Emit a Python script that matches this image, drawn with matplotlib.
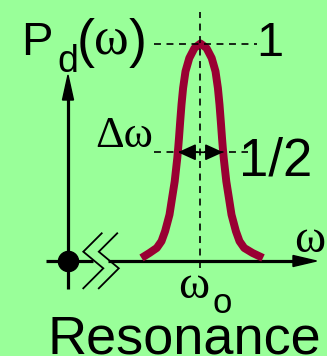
import numpy as np
import matplotlib
matplotlib.use("Agg")
import matplotlib.pyplot as plt
from matplotlib.patches import Polygon, FancyArrowPatch
from matplotlib.transforms import Affine2D

plt.rcParams['font.family'] = ['Liberation Sans', 'DejaVu Sans']
plt.rcParams['lines.scale_dashes'] = False

# Absorbed power P_d (normalised to its peak) versus detuning from omega_o
detuning = [-5.9, -5.1, -4.37, -3.9, -3.54, -3.1, -2.84, -2.58, -2.32, -2.23,
            -2.15, -2.03, -1.9, -1.74, -1.5, -1.12, -0.6, 0.0,
            0.6, 1.12, 1.5, 1.74, 1.9, 2.03, 2.15, 2.23, 2.32, 2.58,
            2.84, 3.1, 3.54, 3.9, 4.37, 5.2, 6.25]
power = [0.014, 0.037, 0.060, 0.091, 0.137, 0.213, 0.290, 0.366, 0.474, 0.52,
         0.566, 0.642, 0.719, 0.795, 0.872, 0.933, 0.979, 1.0,
         0.979, 0.933, 0.872, 0.795, 0.719, 0.642, 0.566, 0.52, 0.474, 0.366,
         0.290, 0.213, 0.137, 0.091, 0.060, 0.037, 0.014]

peak_level = 1.0
half_level = 0.5
peak_label = "1"
half_label = "1/2"

BG = "#99ff99"
CURVE = "#990033"
INK = "black"
SANS = ['Liberation Sans', 'DejaVu Sans']
SERIF = ['Liberation Serif', 'DejaVu Serif']

W, H = 327, 356
fig = plt.figure(figsize=(W / 100, H / 100), dpi=100, facecolor=BG)
ax = fig.add_axes([0, 0, 1, 1])
ax.set_facecolor(BG)
ax.axis('off')

# omega_o sits 200.5 px from the left edge, 10 px per detuning unit;
# P = 0 lies 261 px from the top, 217.5 px per unit of power
OX, SX = 200.5, 10.0
OY, SY = 261.0, 217.5
ax.set_xlim(-OX / SX, (W - OX) / SX)
ax.set_ylim((OY - H) / SY, OY / SY)

# pixel frame (origin top-left) for the schematic decorations
px = Affine2D().scale(1 / W, -1 / H).translate(0, 1) + fig.transFigure

# --- axes drawn by hand ---
axis_lw = 2.3
ax.plot([46, 93], [261, 261], color=INK, lw=axis_lw, transform=px, solid_capstyle='butt')
ax.plot([108, 295], [261, 261], color=INK, lw=axis_lw, transform=px, solid_capstyle='butt')
ax.add_patch(Polygon([[316.5, 261], [293, 255.5], [293, 266.5]], closed=True,
                     color=INK, transform=px))
ax.plot([68, 68], [289, 98], color=INK, lw=axis_lw, transform=px, solid_capstyle='butt')
ax.add_patch(Polygon([[68, 75], [62.5, 100], [73.5, 100]], closed=True,
                     color=INK, transform=px))
ax.plot([68], [261], marker='o', ms=14.5, color=INK, transform=px)

# axis break marks
for dx in (0, 15.5):
    ax.plot(np.array([101.7, 83.3, 103.3, 83.3]) + dx, [233.3, 251.7, 268.3, 288.3],
            color=INK, lw=1.3, transform=px, solid_joinstyle='miter')

# --- resonance curve ---
ax.plot(detuning, power, color=CURVE, lw=5.7, solid_capstyle='butt',
        solid_joinstyle='round', zorder=3)

# --- guide lines ---
dash = dict(color=INK, lw=1.2, dashes=(5, 4), zorder=4)
ax.plot([0, 0], [-0.032, 1.145], **dash)
ax.plot([-4.65, 5.65], [peak_level, peak_level], **dash)
ax.plot([-4.65, 4.75], [half_level, half_level], **dash)

# full width at half maximum
d = np.array(detuning)
p = np.array(power)
right = d >= 0
hw_right = np.interp(half_level, p[right][::-1], d[right][::-1])
hw_left = np.interp(half_level, p[~right], d[~right])
for end in (hw_left, hw_right):
    ax.add_patch(FancyArrowPatch((0, half_level), (end, half_level),
                                 arrowstyle='-|>,head_length=11,head_width=5',
                                 mutation_scale=1, lw=1.2, color=INK,
                                 shrinkA=0, shrinkB=0, zorder=5))


def label(x, y, s, size, family=SANS, **kw):
    fig.text(x, y, s, transform=px, fontsize=size, family=family,
             va='baseline', ha=kw.pop('ha', 'left'), color=INK, **kw)


label(21.5, 55, "P", 34)
label(57, 72, "d", 27)
label(76.5, 57, "(", 39)
label(93.5, 54, "\u03c9", 38, SERIF)
label(128.5, 57, ")", 39)
label(256, 56, peak_label, 35)
label(95, 147, "\u0394\u03c9", 32, SERIF)
label(239, 176, half_label, 38)
label(294, 252, "\u03c9", 34, SERIF)
label(178.5, 298, "\u03c9", 34, SERIF)
label(212, 313, "o", 25)
label(184, 353, "Resonance", 39, ha='center')

fig.savefig("out.png", dpi=100, facecolor=BG)
